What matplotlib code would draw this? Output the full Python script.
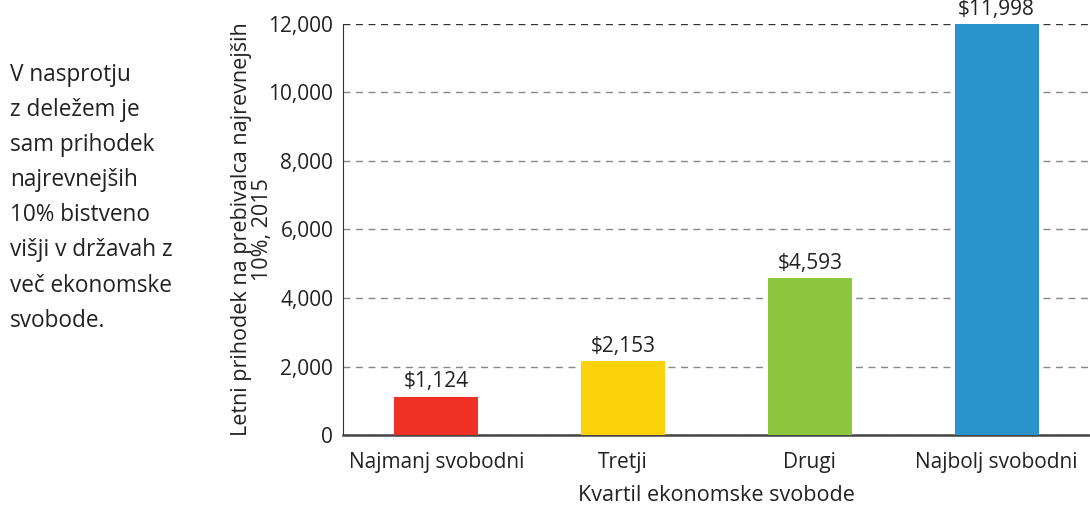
import matplotlib
matplotlib.use("Agg")
import matplotlib.pyplot as plt
from matplotlib.ticker import FuncFormatter

categories = ["Najmanj svobodni", "Tretji", "Drugi", "Najbolj svobodni"]
values = [1124, 2153, 4593, 11998]
colors = ["#EE3124", "#FCD20A", "#8DC63F", "#2A93CB"]
yticks = [0, 2000, 4000, 6000, 8000, 10000, 12000]
side_text = ["V nasprotju", "z deležem je", "sam prihodek", "najrevnejših",
             "10% bistveno", "višji v državah z", "več ekonomske", "svobode."]

plt.rcParams['font.family'] = ['Open Sans', 'DejaVu Sans']
fig = plt.figure(figsize=(10.9, 5.07), dpi=100)
ax = fig.add_axes([0.3147, 0.142, 0.6853, 0.8107])

x = list(range(len(categories)))
ax.bar(x, values, width=0.45, color=colors, zorder=3)
for xi, v in zip(x, values):
    ax.text(xi, v + 120, f"${v:,}", ha="center", va="bottom", fontsize=15, color="#222222", zorder=4)

ax.set_xlim(-0.5, 3.5)
ax.set_ylim(0, 12000)
ax.set_yticks(yticks)
ax.yaxis.set_major_formatter(FuncFormatter(lambda v, p: f"{int(v):,}"))
ax.set_xticks(x)
ax.set_xticklabels(categories)
ax.tick_params(axis="x", length=0, labelsize=15, pad=12, colors="#222222")
ax.tick_params(axis="y", length=0, labelsize=15, colors="#222222", pad=7)
ax.grid(axis="y", linestyle=(0, (5, 4)), color="#888888", linewidth=1.0, zorder=1)
gl = ax.get_ygridlines()
gl[-1].set_color("#333333")
for s in ["top", "right"]:
    ax.spines[s].set_visible(False)
ax.spines["left"].set_color("#333333")
ax.spines["bottom"].set_color("#444444")
ax.spines["bottom"].set_linewidth(1.8)
ax.set_xlabel("Kvartil ekonomske svobode", fontsize=15.5, color="#222222", labelpad=9)
ax.set_ylabel("Letni prihodek na prebivalca najrevnejših\n10%, 2015", fontsize=15.5,
              color="#222222", labelpad=-3, linespacing=1.0)

y0 = 75
for i, line in enumerate(side_text):
    fig.text(10 / 1090, 1 - (y0 + i * 35.1) / 507, line, fontsize=16.3, color="#222222",
             ha="left", va="center")

fig.savefig("out.png", dpi=100)
